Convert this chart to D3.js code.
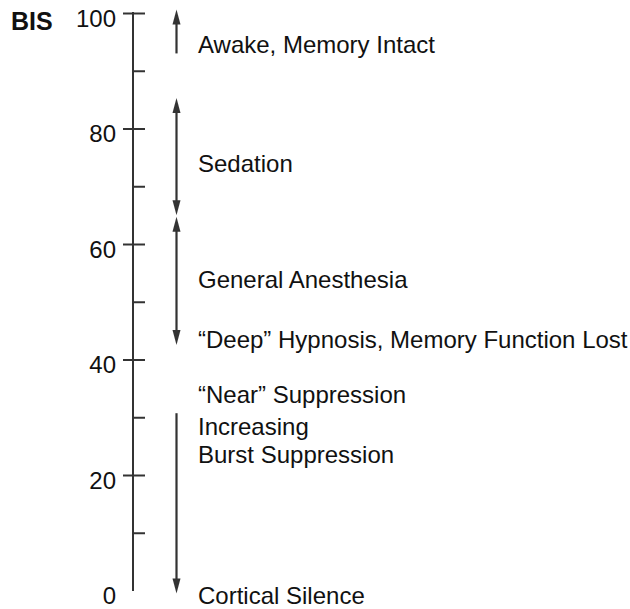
<!DOCTYPE html>
<html>
<head>
<meta charset="utf-8">
<script src="https://cdn.jsdelivr.net/npm/d3@7"></script>
<style>
  html, body { margin: 0; padding: 0; background: #fff; }
  svg { display: block; }
</style>
</head>
<body>
<svg id="chart" width="630" height="609"></svg>
<script>
// ---- data ----
const axisTitle = "BIS";
const majorTicks = [0, 20, 40, 60, 80, 100];
const minorTicks = [10, 30, 50, 70, 90];
// arrows: start value, end value, head at start?, head at end?
const arrowFrom = [93, 85.3, 64.7, 30.7];
const arrowTo   = [100.6, 65.0, 42.5, -0.5];
const arrowHeadStart = [false, true, true, false];
const arrowHeadEnd   = [true, true, true, true];
// label text and the BIS level at which each label sits
const labelText = [
  "Awake, Memory Intact",
  "Sedation",
  "General Anesthesia",
  "\u201CDeep\u201D Hypnosis, Memory Function Lost",
  "\u201CNear\u201D Suppression",
  "Increasing",
  "Burst Suppression",
  "Cortical Silence"
];
const labelLevel = [94.5, 74.0, 53.8, 43.4, 34.0, 28.4, 23.5, -0.9];

// ---- drawing ----
const svg = d3.select("#chart");
const font = "'Liberation Sans', Arial, Helvetica, sans-serif";
const ink = "#333";
const axisX = 133;
const arrowX = 176.5;
const textX = 198;
const fs = 24;

const y = d3.scaleLinear().domain([0, 100]).range([590.5, 13]);

// axis line
svg.append("line")
  .attr("x1", axisX).attr("x2", axisX)
  .attr("y1", y(0) + 0.5).attr("y2", y(100) - 1)
  .attr("stroke", ink).attr("stroke-width", 2);

// right side ticks (all except 0)
const rightAxis = d3.axisRight(y)
  .tickValues(majorTicks.concat(minorTicks).filter(v => v !== 0))
  .tickSize(12).tickFormat("");
const gR = svg.append("g").attr("transform", `translate(${axisX},0)`).call(rightAxis);
gR.select(".domain").remove();
gR.selectAll(".tick line").attr("stroke", ink).attr("stroke-width", 2);

// left side major ticks with labels
const leftAxis = d3.axisLeft(y)
  .tickValues(majorTicks).tickSize(10).tickPadding(7)
  .tickFormat(d3.format("d"));
const gL = svg.append("g").attr("transform", `translate(${axisX},0)`).call(leftAxis);
gL.select(".domain").remove();
gL.selectAll(".tick line").attr("stroke", ink).attr("stroke-width", 2)
  .attr("display", d => d === 0 ? "none" : null);
gL.selectAll(".tick text")
  .attr("font-family", font).attr("font-size", fs)
  .attr("fill", "#111").attr("dy", "0.56em");

// axis title
svg.append("text")
  .attr("x", 11).attr("y", 30)
  .attr("font-family", font).attr("font-size", 25).attr("font-weight", "bold")
  .attr("fill", "#111").text(axisTitle);

// arrows
const headLen = 15, headHalf = 4;
const arrows = arrowFrom.map((f, i) => ({ f, t: arrowTo[i], hs: arrowHeadStart[i], he: arrowHeadEnd[i] }));
const ga = svg.append("g");
arrows.forEach(a => {
  const y1 = y(a.f), y2 = y(a.t);
  const dir = Math.sign(y2 - y1);
  const s1 = a.hs ? y1 + dir * (headLen - 2) : y1;
  const s2 = a.he ? y2 - dir * (headLen - 2) : y2;
  ga.append("line").attr("x1", arrowX).attr("x2", arrowX)
    .attr("y1", s1).attr("y2", s2)
    .attr("stroke", ink).attr("stroke-width", 2.2);
  const head = (tipY, d) => {
    ga.append("path")
      .attr("d", `M${arrowX},${tipY} L${arrowX - headHalf},${tipY - d * headLen} L${arrowX + headHalf},${tipY - d * headLen} Z`)
      .attr("fill", ink);
  };
  if (a.he) head(y2, dir);
  if (a.hs) head(y1, -dir);
});

// labels
svg.append("g").selectAll("text")
  .data(labelText.map((t, i) => ({ t, v: labelLevel[i] })))
  .join("text")
  .attr("x", textX).attr("y", d => y(d.v)).attr("dy", "0.355em")
  .attr("font-family", font).attr("font-size", fs).attr("fill", "#111")
  .text(d => d.t);
</script>
</body>
</html>
